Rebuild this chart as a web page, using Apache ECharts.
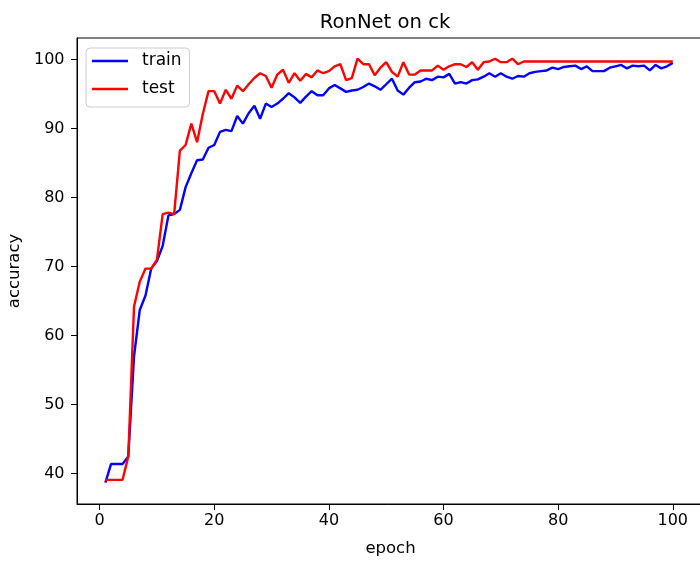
<!DOCTYPE html>
<html>
<head>
<meta charset="utf-8">
<script src="https://cdn.jsdelivr.net/npm/echarts@6/dist/echarts.min.js"></script>
<style>html,body{margin:0;padding:0;background:#fff}#c{width:700px;height:565px}</style>
</head>
<body>
<div id="c"></div>
<script>
const epochs = [1,2,3,4,5,6,7,8,9,10,11,12,13,14,15,16,17,18,19,20,21,22,23,24,25,26,27,28,29,30,31,32,33,34,35,36,37,38,39,40,41,42,43,44,45,46,47,48,49,50,51,52,53,54,55,56,57,58,59,60,61,62,63,64,65,66,67,68,69,70,71,72,73,74,75,76,77,78,79,80,81,82,83,84,85,86,87,88,89,90,91,92,93,94,95,96,97,98,99,100];
const train = [38.7,41.4,41.4,41.4,42.5,57.0,63.7,65.8,69.7,70.8,
  73.0,77.4,77.6,78.2,81.5,83.5,85.4,85.5,87.2,87.6,
  89.5,89.8,89.6,91.8,90.7,92.2,93.3,91.4,93.6,93.1,
  93.6,94.3,95.1,94.5,93.7,94.6,95.4,94.8,94.8,95.8,
  96.3,95.8,95.3,95.5,95.6,96.0,96.5,96.1,95.6,96.4,
  97.2,95.5,94.9,95.9,96.7,96.8,97.2,97.0,97.5,97.4,
  97.9,96.5,96.7,96.5,97.0,97.1,97.5,98.0,97.5,98.0,
  97.5,97.2,97.6,97.5,98.0,98.2,98.3,98.4,98.8,98.6,
  98.9,99.0,99.1,98.6,99.0,98.3,98.3,98.3,98.8,99.0,
  99.2,98.7,99.1,99.0,99.1,98.4,99.2,98.7,99.0,99.5];
const test = [39.1,39.1,39.1,39.1,42.5,64.2,67.8,69.7,69.7,71.0,
  77.6,77.8,77.6,86.8,87.6,90.7,88.0,92.1,95.4,95.4,
  93.6,95.6,94.3,96.2,95.4,96.4,97.3,98.0,97.6,95.9,
  97.8,98.5,96.6,98.0,96.9,97.9,97.4,98.4,98.0,98.3,
  99.0,99.3,97.0,97.3,100.1,99.3,99.3,97.7,98.8,99.6,
  98.2,97.5,99.6,97.8,97.8,98.4,98.4,98.4,99.1,98.5,
  99.0,99.3,99.3,98.9,99.6,98.5,99.6,99.7,100.1,99.6,
  99.6,100.1,99.3,99.7,99.7,99.7,99.7,99.7,99.7,99.7,
  99.7,99.7,99.7,99.7,99.7,99.7,99.7,99.7,99.7,99.7,
  99.7,99.7,99.7,99.7,99.7,99.7,99.7,99.7,99.7,99.7];
const xTicks = [0,20,40,60,80,100];
const yTicks = [40,50,60,70,80,90,100];

const FONT = 'DejaVu Sans';
const chart = echarts.init(document.getElementById('c'));
chart.setOption({
  animation: false,
  backgroundColor: '#fff',
  textStyle: {fontFamily: FONT},
  title: {
    text: 'RonNet on ck', left: 380, top: 8, textAlign: 'center',
    textStyle: {fontFamily: FONT, fontSize: 19.6, fontWeight: 'normal', color: '#000'}
  },
  legend: {
    left: 86, top: 48, orient: 'vertical',
    backgroundColor: 'rgba(255,255,255,0.8)', borderColor: '#cccccc', borderWidth: 1, borderRadius: 4,
    padding: [2, 8, 7, 6], itemWidth: 36, itemHeight: 2.5, itemGap: 6,
    icon: 'rect',
    textStyle: {fontFamily: FONT, fontSize: 17, color: '#000', lineHeight: 22, padding: [0, 0, 0, 9]},
    data: ['train', 'test']
  },
  grid: {left: 77, top: 38, width: 627, height: 466, show: true, borderColor: '#000', borderWidth: 1,
         containLabel: false, outerBoundsMode: 'none'},
  xAxis: {
    type: 'value', min: -3.95, max: 105.45,
    name: 'epoch', nameLocation: 'middle', nameGap: 36,
    nameTextStyle: {fontFamily: FONT, fontSize: 16.5, color: '#000'},
    axisLine: {show: true, onZero: false, lineStyle: {color: '#000', width: 1}},
    axisTick: {show: true, inside: false, length: 6, lineStyle: {color: '#000'}, customValues: xTicks},
    axisLabel: {fontFamily: FONT, fontSize: 16, color: '#000', margin: 9, customValues: xTicks},
    splitLine: {show: false}
  },
  yAxis: {
    type: 'value', min: 35.6, max: 103.1,
    name: 'accuracy', nameLocation: 'middle', nameGap: 54, nameRotate: 90,
    nameTextStyle: {fontFamily: FONT, fontSize: 16.5, color: '#000'},
    axisLine: {show: true, onZero: false, lineStyle: {color: '#000', width: 1}},
    axisTick: {show: true, inside: false, length: 6, lineStyle: {color: '#000'}, customValues: yTicks},
    axisLabel: {fontFamily: FONT, fontSize: 16, color: '#000', margin: 12.5, customValues: yTicks},
    splitLine: {show: false}
  },
  series: [
    {name: 'train', type: 'line', symbol: 'none', data: epochs.map((e, i) => [e, train[i]]),
     lineStyle: {color: '#0000ff', width: 2.4}, itemStyle: {color: '#0000ff'}},
    {name: 'test', type: 'line', symbol: 'none', data: epochs.map((e, i) => [e, test[i]]),
     lineStyle: {color: '#ff0000', width: 2.4}, itemStyle: {color: '#ff0000'}}
  ]
});
</script>
</body>
</html>
